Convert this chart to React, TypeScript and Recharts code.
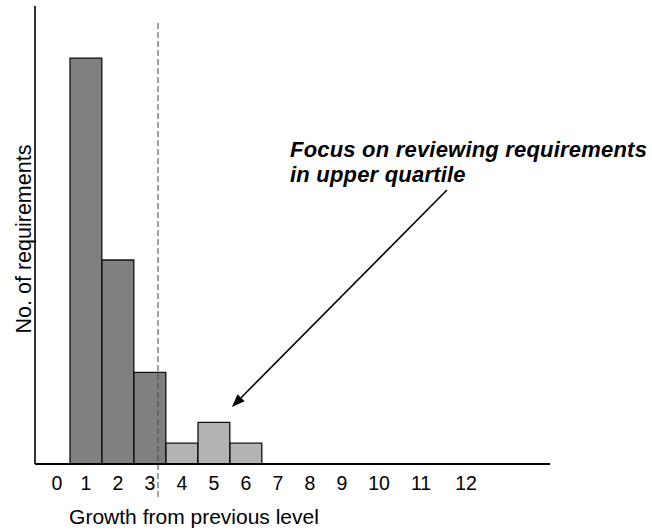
import React from 'react';
import { BarChart, Bar, XAxis, YAxis, Cell, ReferenceLine, ReferenceDot, Label } from 'recharts';

// Growth from previous level (category) and number of requirements (bar height)
const growthLevels = [1, 2, 3, 4, 5, 6];
const requirementCounts = [19.5, 9.8, 4.4, 1, 2, 1];
const tickValues = [0, 1, 2, 3, 4, 5, 6, 7, 8, 9, 10, 11, 12];
const upperQuartileCut = 3.25;
const annotationLines = ['Focus on reviewing requirements', 'in upper quartile'];
const arrowFrom = { x: 12.28, y: 13.16 };
const arrowTo = { x: 5.56, y: 2.74 };
const annotationAnchor = { x: 7.375, y: 14.75 };

const data = growthLevels.map((g, i) => ({ x: g, count: requirementCounts[i] }));

const FONT = '"Liberation Sans", Arial, Helvetica, sans-serif';

const tickShift: Record<number, number> = { 0: 3, 10: 5, 11: 15, 12: 28 };

const XTick = (props: any) => {
  const { x, y, payload } = props;
  const dx = tickShift[payload.value] || 0;
  return (
    <text x={x + dx} y={y + 26} textAnchor="middle" fontFamily={FONT} fontSize={19.5} fill="#000">
      {payload.value}
    </text>
  );
};

const Arrow = (props: any) => {
  const { x1, y1, x2, y2 } = props;
  if ([x1, y1, x2, y2].some((v) => typeof v !== 'number' || isNaN(v))) return null;
  const ang = Math.atan2(y2 - y1, x2 - x1);
  const len = 13;
  const half = 5;
  const bx = x2 - len * Math.cos(ang);
  const by = y2 - len * Math.sin(ang);
  const px = -Math.sin(ang) * half;
  const py = Math.cos(ang) * half;
  return (
    <g>
      <line x1={x1} y1={y1} x2={bx} y2={by} stroke="#000" strokeWidth={1.6} />
      <polygon points={`${x2},${y2} ${bx + px},${by + py} ${bx - px},${by - py}`} fill="#000" />
    </g>
  );
};

const DashLine = (props: any) => {
  const { x1, y1, x2, y2 } = props;
  if ([x1, y1, x2, y2].some((v) => typeof v !== 'number' || isNaN(v))) return null;
  return <line x1={x1} y1={y1} x2={x2} y2={y2} stroke="#444" strokeWidth={1} strokeDasharray="6 3" />;
};

const Annotation = (props: any) => {
  const { cx, cy } = props;
  if (typeof cx !== 'number' || typeof cy !== 'number') return null;
  return (
    <text x={cx} y={cy} fontFamily={FONT} fontSize={22} fontWeight="bold" fontStyle="italic" fill="#000" letterSpacing={0.2}>
      {annotationLines.map((l, i) => (
        <tspan key={i} x={cx} dy={i === 0 ? 0 : 25}>
          {l}
        </tspan>
      ))}
    </text>
  );
};

const XLabel = (props: any) => {
  const { viewBox } = props;
  return (
    <text x={viewBox.x + 159} y={viewBox.y + 60} textAnchor="middle" fontFamily={FONT} fontSize={21} fill="#000">
      Growth from previous level
    </text>
  );
};

const YLabel = (props: any) => {
  const { viewBox } = props;
  const cx = 31;
  const cy = viewBox.y + 233;
  return (
    <text x={cx} y={cy} transform={`rotate(-90 ${cx} ${cy})`} textAnchor="middle" fontFamily={FONT} fontSize={21.5} fill="#000">
      No. of requirements
    </text>
  );
};

export default function App() {
  return (
    <div style={{ position: 'absolute', left: 0, top: 0, width: 652, height: 530, background: '#fff' }}>
      <BarChart
        width={652}
        height={530}
        data={data}
        margin={{ top: 6, right: 102, bottom: 0, left: 34 }}
        barCategoryGap={0}
        barGap={0}
      >
        <XAxis
          dataKey="x"
          type="number"
          domain={[-0.59375, 15.5]}
          allowDataOverflow
          ticks={tickValues}
          interval={0}
          tickLine={false}
          tickSize={0}
          tickMargin={0}
          tick={<XTick />}
          height={66}
          axisLine={{ stroke: '#000', strokeWidth: 2 }}
        >
          <Label content={<XLabel />} />
        </XAxis>
        <YAxis
          type="number"
          domain={[0, 22]}
          allowDataOverflow
          width={1}
          tick={false}
          tickLine={false}
          axisLine={{ stroke: '#000', strokeWidth: 1.6 }}
        >
          <Label content={<YLabel />} />
        </YAxis>
        <Bar dataKey="count" barSize={31.8} isAnimationActive={false} stroke="#111" strokeWidth={1.3}>
          {data.map((d, i) => (
            <Cell key={i} fill={d.x > upperQuartileCut ? '#b3b3b3' : '#808080'} />
          ))}
        </Bar>
        <ReferenceLine
          segment={[
            { x: upperQuartileCut, y: 21.18 },
            { x: upperQuartileCut, y: -1.58 },
          ]}
          ifOverflow="visible"
          shape={<DashLine />}
        />
        <ReferenceLine segment={[arrowFrom, arrowTo]} ifOverflow="visible" shape={<Arrow />} />
        <ReferenceDot x={annotationAnchor.x} y={annotationAnchor.y} r={0} ifOverflow="visible" shape={<Annotation />} />
      </BarChart>
    </div>
  );
}
